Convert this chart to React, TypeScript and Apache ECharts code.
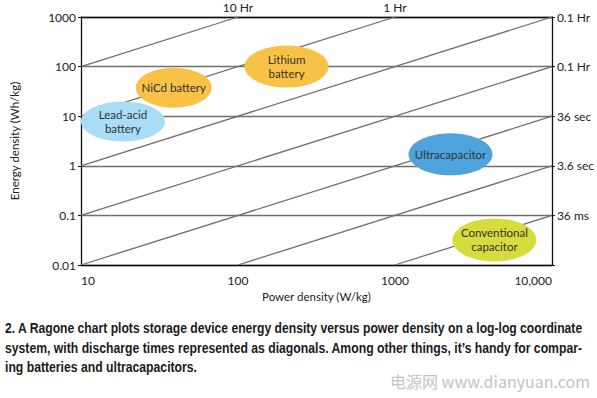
import React, { useEffect, useRef } from "react";
import * as echarts from "echarts";

// Axis ticks
const xTicks = [10, 100, 1000, 10000];
const xTickLabels = ["10", "100", "1000", "10,000"];
const yTicks = [0.01, 0.1, 1, 10, 100, 1000];
const yTickLabels = ["0.01", "0.1", "1", "10", "100", "1000"];
const rightTickLabels = ["", "36 ms", "3.6 sec", "36 sec", "0.1 Hr", "0.1 Hr"];
const topTickLabels = ["", "10 Hr", "1 Hr", ""];

// Constant discharge-time diagonals (energy = power × time)
const diagonalNames = ["10 Hr", "1 Hr", "0.1 Hr", "0.01 Hr", "36 sec", "3.6 sec", "36 ms"];
const diagonalStarts: number[][] = [
  [10, 100],
  [10, 10],
  [10, 1],
  [10, 0.1],
  [10, 0.01],
  [100, 0.01],
  [1000, 0.01],
];
const diagonalEnds: number[][] = [
  [100, 1000],
  [1000, 1000],
  [10000, 1000],
  [10000, 100],
  [10000, 10],
  [10000, 1],
  [10000, 0.1],
];

// Device regions (ellipse centres)
const devices = ["Lead-acid\nbattery", "NiCd battery", "Lithium\nbattery", "Ultracapacitor", "Conventional\ncapacitor"];
const devicePower = [18.5, 39, 204, 2260, 4300];
const deviceEnergy = [7.8, 37.5, 100, 1.7, 0.032];

// Styles
const deviceColors = ["#a9dcf5", "#f8c246", "#f8c246", "#4ea3dd", "#d5dc3c"];
const deviceSizes = [[84, 40], [76, 40], [84, 42], [84, 42], [84, 43]];

const captionLines = [
  "2. A Ragone chart plots storage device energy density versus power density on a log-log coordinate",
  "system, with discharge times represented as diagonals. Among other things, it\u2019s handy for compar-",
  "ing batteries and ultracapacitors.",
];
const watermark = "电源网 www.dianyuan.com";

const FONT = "Lato, 'Open Sans', 'Noto Sans', sans-serif";
const CAP_FONT = "'Liberation Sans', Arial, sans-serif";

function lookup(v: number, ticks: number[], labels: string[]) {
  for (let i = 0; i < ticks.length; i++) {
    if (Math.abs(Math.log10(v) - Math.log10(ticks[i])) < 1e-6) return labels[i];
  }
  return "";
}

export default function App() {
  const ref = useRef<HTMLDivElement>(null);
  useEffect(() => {
    if (!ref.current) return;
    const chart = echarts.init(ref.current, undefined, { renderer: "svg" });

    // compute horizontal squeeze for the condensed caption font
    const canvas = document.createElement("canvas");
    const ctx = canvas.getContext("2d")!;
    ctx.font = "bold 14px 'Liberation Sans', Arial, sans-serif";
    const w0 = ctx.measureText(captionLines[0]).width;
    const w1 = ctx.measureText(captionLines[1]).width;
    const s0 = 579 / w0;
    const s1 = 578 / w1;

    const lineColor = "#6f6f6f";
    const option: any = {
      animation: false,
      backgroundColor: "#ffffff",
      grid: { left: 72, right: 41, top: 17, bottom: 133, containLabel: false },
      xAxis: [
        {
          type: "log",
          logBase: 10,
          min: 10,
          max: 10000,
          position: "bottom",
          name: "Power density (W/kg)",
          nameLocation: "middle",
          nameGap: 25,
          nameTextStyle: { fontFamily: FONT, fontSize: 11.5, color: "#222" },
          axisLine: { show: true, lineStyle: { color: "#111", width: 1.3 } },
          axisTick: { show: false },
          splitLine: { show: false },
          minorTick: { show: false },
          axisLabel: {
            fontFamily: FONT,
            fontSize: 12,
            color: "#222",
            margin: 9,
            alignMinLabel: "left",
            alignMaxLabel: "right",
            formatter: (v: number) => lookup(v, xTicks, xTickLabels),
          },
        },
        {
          type: "log",
          logBase: 10,
          min: 10,
          max: 10000,
          position: "top",
          axisLine: { show: true, lineStyle: { color: "#111", width: 1.3 } },
          axisTick: { show: false },
          splitLine: { show: false },
          axisLabel: {
            fontFamily: FONT,
            fontSize: 12,
            color: "#222",
            margin: 4,
            formatter: (v: number) => lookup(v, xTicks, topTickLabels),
          },
        },
      ],
      yAxis: [
        {
          type: "log",
          logBase: 10,
          min: 0.01,
          max: 1000,
          position: "left",
          name: "Energy density (Wh/kg)",
          nameLocation: "middle",
          nameGap: 49,
          nameTextStyle: { fontFamily: FONT, fontSize: 11.5, color: "#222", padding: [0, 0, 12, 0] },
          axisLine: { show: true, lineStyle: { color: "#111", width: 1.3 } },
          axisTick: { show: true, length: 3, lineStyle: { color: "#111" } },
          splitLine: { show: true, lineStyle: { color: lineColor, width: 1.3 } },
          axisLabel: {
            fontFamily: FONT,
            fontSize: 12,
            color: "#222",
            margin: 5,
            formatter: (v: number) => lookup(v, yTicks, yTickLabels),
          },
        },
        {
          type: "log",
          logBase: 10,
          min: 0.01,
          max: 1000,
          position: "right",
          axisLine: { show: true, lineStyle: { color: "#111", width: 1.3 } },
          axisTick: { show: true, length: 3, lineStyle: { color: "#111" } },
          splitLine: { show: false },
          axisLabel: {
            fontFamily: FONT,
            fontSize: 12,
            color: "#222",
            margin: 5,
            formatter: (v: number) => lookup(v, yTicks, rightTickLabels),
          },
        },
      ],
      series: [
        ...diagonalNames.map((n, i) => ({
          name: n,
          type: "line",
          xAxisIndex: 0,
          yAxisIndex: 0,
          data: [diagonalStarts[i], diagonalEnds[i]],
          symbol: "none",
          silent: true,
          z: 2,
          lineStyle: { color: lineColor, width: 1.3 },
        })),
        {
          name: "devices",
          type: "scatter",
          xAxisIndex: 0,
          yAxisIndex: 0,
          z: 5,
          data: devices.map((d, i) => ({
            name: d,
            value: [devicePower[i], deviceEnergy[i]],
            symbol: "circle",
            symbolSize: deviceSizes[i],
            itemStyle: { color: deviceColors[i], opacity: 1 },
          })),
          label: {
            show: true,
            position: "inside",
            formatter: (p: any) => p.name,
            fontFamily: FONT,
            fontSize: 11.5,
            lineHeight: 14,
            color: "#333",
          },
        },
      ],
      graphic: [
        {
          type: "text",
          left: 5,
          top: 321,
          scaleX: s0,
          style: { text: captionLines[0], font: "bold 14px " + CAP_FONT, fill: "#1a1a1a" },
        },
        {
          type: "text",
          left: 5,
          top: 341,
          scaleX: s1,
          style: { text: captionLines[1], font: "bold 14px " + CAP_FONT, fill: "#1a1a1a" },
        },
        {
          type: "text",
          left: 5,
          top: 360,
          scaleX: s1,
          style: { text: captionLines[2], font: "bold 14px " + CAP_FONT, fill: "#1a1a1a" },
        },
        {
          type: "text",
          right: 7,
          top: 373,
          style: {
            text: watermark,
            font: "16px 'Noto Sans CJK SC', 'Noto Sans', sans-serif",
            fill: "#c4c4c4",
          },
        },
      ],
    };
    chart.setOption(option);
    return () => chart.dispose();
  }, []);
  return (
    <div
      ref={ref}
      style={{ position: "absolute", left: 0, top: 0, width: 597, height: 398 }}
    />
  );
}
